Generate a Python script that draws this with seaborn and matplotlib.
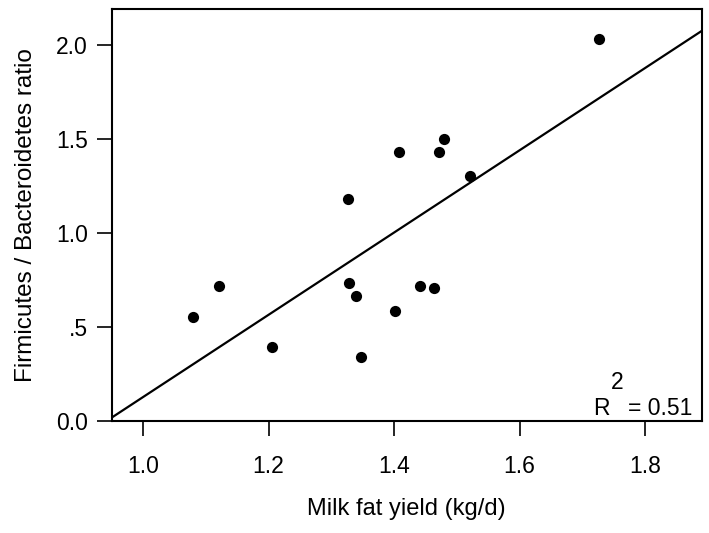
import numpy as np
import seaborn as sns
from matplotlib import pyplot as plt

# valores
milk_fat_yield = [1.079, 1.121, 1.206, 1.327, 1.328, 1.339, 1.348, 1.402,
                  1.408, 1.441, 1.464, 1.471, 1.480, 1.521, 1.727]
fb_ratio = [0.551, 0.714, 0.393, 1.180, 0.735, 0.661, 0.341, 0.586,
            1.432, 0.714, 0.707, 1.430, 1.499, 1.304, 2.030]

x_ticks = [1.0, 1.2, 1.4, 1.6, 1.8]
x_tick_labels = ["1.0", "1.2", "1.4", "1.6", "1.8"]
y_ticks = [0.0, 0.5, 1.0, 1.5, 2.0]
y_tick_labels = ["0.0", ".5", "1.0", "1.5", "2.0"]
r2_text = "0.51"

sns.set_style("ticks")
plt.rcParams['font.family'] = ['Liberation Sans', 'DejaVu Sans']
plt.rcParams['text.color'] = 'black'
plt.rcParams['axes.labelcolor'] = 'black'

fig = plt.figure(figsize=(7.09, 5.33), dpi=100)
ax = fig.add_axes([0.1575, 0.2107, 0.8322, 0.7724])

# limites antes do regplot para a reta ir de borda a borda
ax.set_xlim(0.95, 1.89)
ax.set_ylim(0, 2.19)

sns.regplot(x=milk_fat_yield, y=fb_ratio, ax=ax, ci=None, truncate=False,
            scatter_kws=dict(s=65, color='black', alpha=1, linewidths=0, zorder=3),
            line_kws=dict(color='black', lw=1.6))

ax.set_xlim(0.95, 1.89)
ax.set_ylim(0, 2.19)

ax.set_xticks(x_ticks)
ax.set_xticklabels(x_tick_labels)
ax.set_yticks(y_ticks)
ax.set_yticklabels(y_tick_labels)
ax.tick_params(axis='both', direction='out', length=11, width=1.2,
               labelsize=16.5, color='black', labelcolor='black')
ax.tick_params(axis='x', pad=14)
ax.tick_params(axis='y', pad=6)

for side in ['top', 'right', 'bottom', 'left']:
    ax.spines[side].set_visible(True)
    ax.spines[side].set_linewidth(1.5)
    ax.spines[side].set_color('black')

ax.set_xlabel("Milk fat yield (kg/d)", fontsize=17, labelpad=14)
ax.set_ylabel("Firmicutes / Bacteroidetes ratio", fontsize=17.5, labelpad=14)

# R² no canto inferior direito (como no original, com o 2 separado)
ax.text(0.8305, 0.030, "R", transform=ax.transAxes, fontsize=16.5,
        ha='center', va='center')
ax.text(0.857, 0.093, "2", transform=ax.transAxes, fontsize=16.5,
        ha='center', va='center')
ax.text(0.985, 0.030, "= " + r2_text, transform=ax.transAxes, fontsize=16.5,
        ha='right', va='center')

fig.savefig("out.png", dpi=100)
